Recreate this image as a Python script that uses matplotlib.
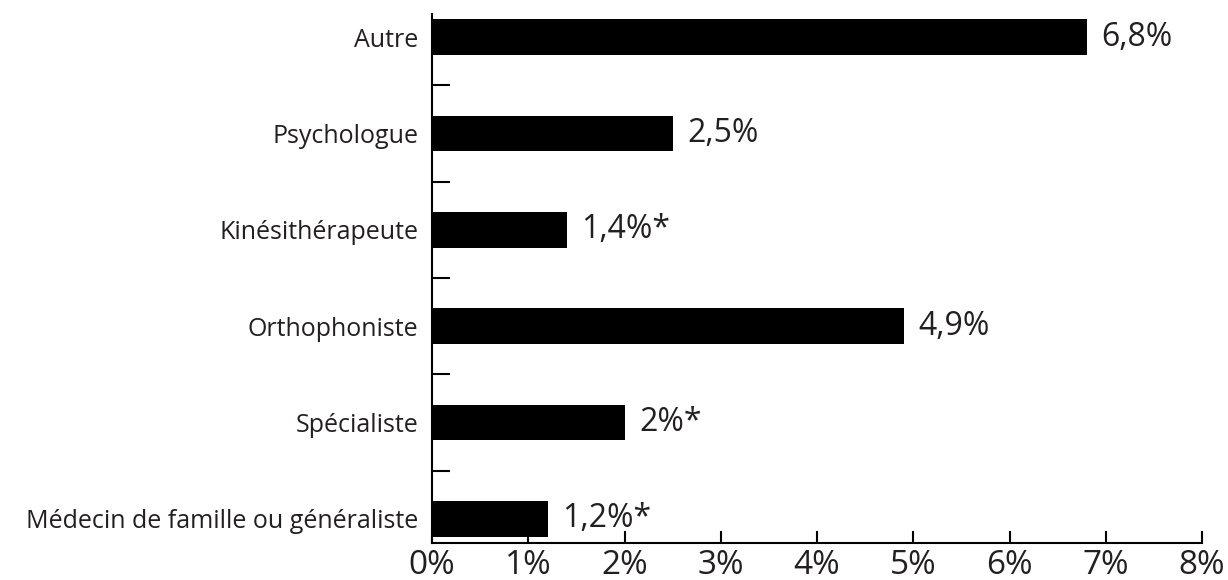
import numpy as np
import matplotlib.pyplot as plt

categories = ['Médecin de famille ou généraliste', 'Spécialiste', 'Orthophoniste',
              'Kinésithérapeute', 'Psychologue', 'Autre']
values = [1.2, 2.0, 4.9, 1.4, 2.5, 6.8]
value_labels = ['1,2%*', '2%*', '4,9%', '1,4%*', '2,5%', '6,8%']
xticks = [0, 1, 2, 3, 4, 5, 6, 7, 8]

text_color = '#231f20'
plt.rcParams['font.family'] = ['Open Sans', 'DejaVu Sans']

fig = plt.figure(figsize=(12.28, 5.8), dpi=100)
ax = fig.add_axes([432 / 1228, 37 / 580, 770 / 1228, 529 / 580])

y = np.arange(len(categories))
ax.barh(y, values, height=0.37, color='black')

for yi, v, lab in zip(y, values, value_labels):
    ax.text(v + 0.15, yi, lab, va='center', ha='left', fontsize=23, color=text_color)

ax.set_xlim(0, 8)
ax.set_ylim(-0.25, len(categories) - 0.76)

ax.set_xticks(xticks)
ax.set_xticklabels([f'{t}%' for t in xticks], fontsize=24, color=text_color)
ax.tick_params(axis='x', direction='in', length=9, width=1.5, pad=4)

# category names as minor labels, boundary ticks as major ticks
ax.set_yticks(y[:-1] + 0.5)
ax.set_yticklabels([])
ax.tick_params(axis='y', which='major', direction='in', length=13, width=1.5)
ax.set_yticks(y, minor=True)
ax.set_yticklabels(categories, minor=True, fontsize=18, color=text_color)
ax.tick_params(axis='y', which='minor', length=0, pad=10)

for side in ['top', 'right']:
    ax.spines[side].set_visible(False)
for side in ['left', 'bottom']:
    ax.spines[side].set_linewidth(1.5)

fig.savefig('out.png', dpi=100)
